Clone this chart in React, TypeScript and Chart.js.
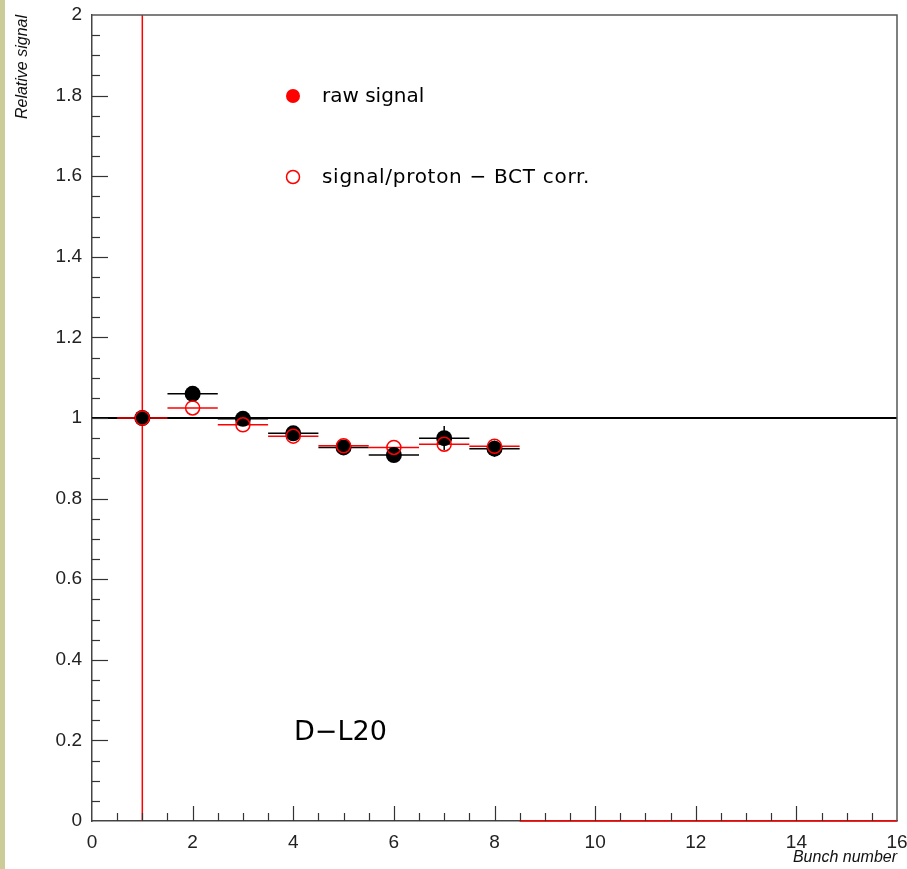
import React, { useEffect, useRef } from "react";
import { Chart, registerables } from "chart.js";

Chart.register(...registerables);

// ---- data ----
const bunchNumbers = [1, 2, 3, 4, 5, 6, 7, 8];
const rawSignal = [1.0, 1.06, 0.998, 0.962, 0.927, 0.908, 0.95, 0.924];
const rawErrY = [0, 0, 0, 0, 0, 0, 0.03, 0.02];

const corrBunchNumbers = [1, 2, 3, 4, 5, 6, 7, 8, 9, 10, 11, 12, 13, 14, 15, 16];
const corrSignal = [1.0, 1.025, 0.983, 0.955, 0.931, 0.927, 0.935, 0.93, 0, 0, 0, 0, 0, 0, 0, 0];
const corrErrY = [1.0, 0, 0, 0, 0, 0, 0, 0, 0, 0, 0, 0, 0, 0, 0, 0];

const binHalfWidth = 0.5;
const referenceLevel = 1;

const legendLabels = ["raw signal", "signal/proton \u2212 BCT corr."];
const detectorLabel = "D\u2212L20";
const xTitle = "Bunch number";
const yTitle = "Relative signal";

const X_MIN = 0, X_MAX = 16, Y_MIN = 0, Y_MAX = 2;

const RED = "#ff0000";

export default function App() {
  const ref = useRef<HTMLCanvasElement | null>(null);

  useEffect(() => {
    const canvas = ref.current;
    if (!canvas) return;

    const overlay = {
      id: "rootStyle",
      beforeDraw(chart: any) {
        const ctx = chart.ctx;
        ctx.save();
        ctx.fillStyle = "#ffffff";
        ctx.fillRect(0, 0, chart.width, chart.height);
        ctx.fillStyle = "#cccc99";
        ctx.fillRect(0, 0, 5, chart.height);
        ctx.restore();
      },
      beforeDatasetsDraw(chart: any) {
        const ctx = chart.ctx;
        const xs = chart.scales.x;
        const ys = chart.scales.y;
        const a = chart.chartArea;
        ctx.save();
        ctx.beginPath();
        ctx.rect(a.left, a.top - 1, a.right - a.left, a.bottom - a.top + 2);
        ctx.clip();

        // reference line
        ctx.strokeStyle = "#000";
        ctx.lineWidth = 2;
        const yr = ys.getPixelForValue(referenceLevel);
        ctx.beginPath();
        ctx.moveTo(a.left, yr);
        ctx.lineTo(a.right, yr);
        ctx.stroke();

        const drawErr = (xsArr: number[], vals: number[], errs: number[], color: string) => {
          ctx.strokeStyle = color;
          ctx.lineWidth = 1.5;
          for (let i = 0; i < xsArr.length; i++) {
            const y = ys.getPixelForValue(vals[i]);
            const x0 = xs.getPixelForValue(xsArr[i] - binHalfWidth);
            const x1 = xs.getPixelForValue(xsArr[i] + binHalfWidth);
            ctx.beginPath();
            ctx.moveTo(x0, y);
            ctx.lineTo(x1, y);
            ctx.stroke();
            if (errs[i] > 0) {
              const xc = xs.getPixelForValue(xsArr[i]);
              ctx.beginPath();
              ctx.moveTo(xc, ys.getPixelForValue(vals[i] - errs[i]));
              ctx.lineTo(xc, ys.getPixelForValue(vals[i] + errs[i]));
              ctx.stroke();
            }
          }
        };
        drawErr(bunchNumbers, rawSignal, rawErrY, "#000");
        drawErr(corrBunchNumbers, corrSignal, corrErrY, RED);
        ctx.restore();

        // frame top/right
        ctx.save();
        ctx.strokeStyle = "#555";
        ctx.lineWidth = 1.5;
        ctx.beginPath();
        ctx.moveTo(a.left, a.top);
        ctx.lineTo(a.right, a.top);
        ctx.lineTo(a.right, a.bottom);
        ctx.stroke();

        // inner ticks
        ctx.strokeStyle = "#333";
        ctx.lineWidth = 1.2;
        for (let v = X_MIN + 0.5; v < X_MAX; v += 0.5) {
          const x = Math.round(xs.getPixelForValue(v)) + 0.5;
          const len = Math.abs(v % 2) < 1e-6 ? 15 : 8;
          ctx.beginPath();
          ctx.moveTo(x, a.bottom);
          ctx.lineTo(x, a.bottom - len);
          ctx.stroke();
        }
        for (let k = 1; k < 40; k++) {
          const v = k * 0.05;
          const y = Math.round(ys.getPixelForValue(v)) + 0.5;
          const len = k % 4 === 0 ? 16 : 8;
          ctx.beginPath();
          ctx.moveTo(a.left, y);
          ctx.lineTo(a.left + len, y);
          ctx.stroke();
        }
        ctx.restore();
      },
      afterDraw(chart: any) {
        const ctx = chart.ctx;
        const a = chart.chartArea;
        ctx.save();
        // axis titles
        ctx.fillStyle = "#111";
        ctx.font = "italic 16px 'Liberation Sans', Arial, sans-serif";
        ctx.textAlign = "right";
        ctx.textBaseline = "alphabetic";
        ctx.fillText(xTitle, a.right, 862);
        ctx.save();
        ctx.translate(27, a.top);
        ctx.rotate(-Math.PI / 2);
        ctx.textAlign = "right";
        ctx.fillText(yTitle, 0, 0);
        ctx.restore();

        // legend
        ctx.font = "20px 'DejaVu Sans', sans-serif";
        ctx.textAlign = "left";
        ctx.textBaseline = "middle";
        ctx.fillStyle = RED;
        ctx.beginPath();
        ctx.arc(293, 96, 7, 0, Math.PI * 2);
        ctx.fill();
        ctx.strokeStyle = RED;
        ctx.lineWidth = 1.5;
        ctx.beginPath();
        ctx.arc(293, 177, 6.5, 0, Math.PI * 2);
        ctx.stroke();
        ctx.fillStyle = "#000";
        ctx.fillText(legendLabels[0], 322, 97);
        try { (ctx as any).letterSpacing = "0.7px"; } catch (e) {}
        ctx.fillText(legendLabels[1], 322, 178);
        try { (ctx as any).letterSpacing = "0px"; } catch (e) {}

        // detector label
        ctx.font = "27px 'DejaVu Sans', sans-serif";
        ctx.fillText(detectorLabel, 294, 733);
        ctx.restore();
      },
    };

    const fmt = (v: any) => String(Number(Number(v).toFixed(2)));

    const chart = new Chart(canvas, {
      type: "scatter",
      data: {
        datasets: [
          {
            label: legendLabels[0],
            data: bunchNumbers.map((b, i) => ({ x: b, y: rawSignal[i] })),
            pointRadius: 8,
            pointBackgroundColor: "#000",
            pointBorderColor: "#000",
            pointBorderWidth: 0,
            order: 1,
          },
          {
            label: legendLabels[1],
            data: corrBunchNumbers.map((b, i) => ({ x: b, y: corrSignal[i] })),
            pointRadius: (c: any) => (corrSignal[c.dataIndex] > 0 ? 7 : 0),
            pointBackgroundColor: "rgba(0,0,0,0)",
            pointBorderColor: RED,
            pointBorderWidth: 1.5,
            order: 0,
          },
        ],
      },
      options: {
        responsive: false,
        animation: false,
        devicePixelRatio: 1,
        layout: { padding: { left: 0, top: 15, right: 10, bottom: 0 } },
        plugins: { legend: { display: false }, tooltip: { enabled: false } },
        scales: {
          x: {
            type: "linear",
            min: X_MIN,
            max: X_MAX,
            afterFit: (s: any) => {
              s.height = 48;
              s.paddingLeft = 0; s.paddingRight = 0; s.paddingTop = 0; s.paddingBottom = 0;
            },
            grid: { display: false, drawTicks: false },
            border: { display: true, color: "#444", width: 1.5 },
            ticks: {
              stepSize: 2,
              padding: 10,
              color: "#222",
              font: { family: "'Liberation Sans', Arial, sans-serif", size: 19 },
              maxRotation: 0,
              callback: fmt,
            },
          },
          y: {
            type: "linear",
            min: Y_MIN,
            max: Y_MAX,
            afterFit: (s: any) => {
              s.width = 92;
              s.paddingLeft = 0; s.paddingRight = 0; s.paddingTop = 0; s.paddingBottom = 0;
            },
            grid: { display: false, drawTicks: false },
            border: { display: true, color: "#444", width: 1.5 },
            ticks: {
              stepSize: 0.2,
              padding: 10,
              color: "#222",
              font: { family: "'Liberation Sans', Arial, sans-serif", size: 19 },
              callback: fmt,
            },
          },
        },
      },
      plugins: [overlay],
    } as any);

    return () => chart.destroy();
  }, []);

  return (
    <div style={{ position: "fixed", left: 0, top: 0, width: 907, height: 869 }}>
      <canvas ref={ref} width={907} height={869} style={{ display: "block" }} />
    </div>
  );
}
